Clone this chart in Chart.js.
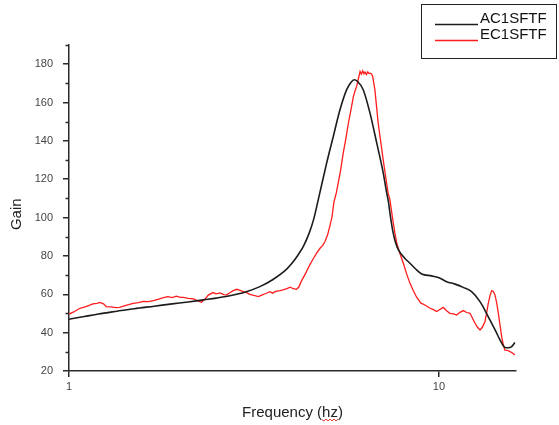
<!DOCTYPE html>
<html>
<head>
<meta charset="utf-8">
<title>Gain vs Frequency</title>
<script src="https://cdn.jsdelivr.net/npm/chart.js@4.4.1/dist/chart.umd.min.js"></script>
<style>
  html, body { margin: 0; padding: 0; background: #fff; }
  #wrap { width: 559px; height: 425px; }
</style>
</head>
<body>
<div id="wrap"><canvas id="gainChart" width="559" height="425"></canvas></div>
<script>
// AC1SFTF response (smooth)
const freqAC = [1.00, 1.10, 1.20, 1.35, 1.50, 1.70, 1.90, 2.10, 2.31, 2.50, 2.72, 3.00, 3.28, 3.55, 3.87, 4.00, 4.16,
  4.30, 4.45, 4.58, 4.72, 4.97, 5.18, 5.40, 5.63, 5.78, 5.90, 6.02, 6.24, 6.51, 6.79, 7.07, 7.22, 7.29, 7.40, 7.51, 7.63,
  7.77, 8.05, 8.35, 8.65, 8.98, 9.55, 10.0, 10.49, 11.05, 11.63, 12.25, 12.91, 13.30, 13.73, 14.20, 14.62, 15.07, 15.40,
  15.72, 16.04];
const gainAC = [47.0, 48.4, 49.7, 51.2, 52.5, 53.8, 55.0, 56.0, 57.1, 58.0, 59.2, 61.2, 64.0, 67.6, 73.0, 76.0, 80.5,
  85.0, 91.5, 98.8, 109.5, 128.4, 142.3, 156.2, 166.7, 170.5, 171.9, 171.0, 166.7, 154.5, 138.8, 123.2, 113.0, 109.0, 100.0, 92.5, 87.0,
  83.2, 79.2, 76.2, 73.2, 70.6, 69.6, 68.6, 66.6, 65.3, 63.6, 61.4, 56.2, 51.8, 46.6, 41.2, 36.2, 32.3, 32.1,
  32.7, 34.8];

// EC1SFTF response (measured, noisy)
const freqEC = [1.00, 1.03, 1.07, 1.10, 1.13, 1.16, 1.19, 1.21, 1.24, 1.26, 1.30, 1.34, 1.37, 1.41, 1.45, 1.49, 1.54,
  1.59, 1.64, 1.69, 1.74, 1.80, 1.85, 1.90, 1.95, 2.00, 2.04, 2.10, 2.17, 2.23, 2.28, 2.33, 2.38, 2.45, 2.50, 2.56,
  2.62, 2.67, 2.72, 2.78, 2.84, 2.90, 2.96, 3.02, 3.08, 3.16, 3.25, 3.32, 3.40, 3.49, 3.55, 3.62, 3.72, 3.79, 3.88,
  3.96, 4.04, 4.12, 4.18, 4.25, 4.35, 4.48, 4.58, 4.67, 4.77, 4.85, 4.92, 5.00, 5.08, 5.14, 5.20, 5.28, 5.34, 5.42,
  5.51, 5.60, 5.69, 5.78, 5.87, 5.93, 5.99, 6.05, 6.12, 6.17, 6.22, 6.27, 6.31, 6.37, 6.42, 6.47, 6.51, 6.57, 6.62,
  6.71, 6.78, 6.85, 6.96, 7.07, 7.18, 7.29, 7.37, 7.50, 7.60, 7.69, 7.85, 8.01, 8.18, 8.35, 8.52, 8.70, 8.82, 8.92,
  9.16, 9.30, 9.46, 9.66, 9.86, 10.05, 10.27, 10.48, 10.71, 10.95, 11.16, 11.40, 11.63, 11.88, 12.13, 12.30, 12.51,
  12.71, 12.91, 13.10, 13.31, 13.45, 13.59, 13.75, 13.88, 14.03, 14.17, 14.32, 14.47, 14.62, 14.77, 14.92, 15.07,
  15.30, 15.56, 15.80, 16.04];
const gainEC = [49.7, 50.8, 52.7, 53.3, 54.1, 55.0, 55.3, 55.8, 55.0, 53.6, 53.4, 53.0, 53.2, 54.0, 54.6, 55.3, 55.6,
  56.3, 56.2, 56.7, 57.4, 58.2, 58.8, 58.3, 59.0, 58.4, 58.4, 57.9, 57.6, 56.6, 55.8, 57.5, 59.6, 60.9, 60.2, 60.7,
  59.8, 59.7, 60.8, 61.9, 62.6, 62.0, 61.4, 60.9, 60.0, 59.4, 58.8, 59.6, 60.4, 61.4, 60.6, 61.5, 61.9, 62.3, 63.0,
  63.7, 62.9, 62.6, 63.8, 67.0, 70.5, 75.5, 78.8, 81.5, 84.0, 85.5, 87.5, 91.0, 96.2, 100.5, 108.0, 113.0, 118.0, 124.5,
  133.6, 141.0, 149.2, 156.0, 163.1, 166.0, 168.4, 172.0, 176.2, 174.8, 176.6, 175.0, 175.9, 174.6, 176.0, 175.1, 175.3, 174.9, 173.6,
  166.7, 158.0, 149.2, 139.5, 129.9, 121.0, 112.6, 109.2, 99.0, 92.0, 86.6, 81.0, 76.2, 70.5, 65.7, 62.0, 58.5, 57.0, 55.5,
  54.4, 53.6, 52.7, 52.0, 51.0, 52.1, 53.2, 51.4, 50.1, 49.8, 49.2, 50.6, 51.5, 50.5, 50.1, 47.8, 44.9,
  42.8, 41.4, 42.8, 45.7, 50.2, 55.3, 59.6, 61.9, 61.5, 59.7, 55.5, 50.1, 44.0, 37.9, 33.8, 30.9,
  30.8, 30.1, 29.4, 28.4];

const seriesNames = ['AC1SFTF', 'EC1SFTF'];
const seriesColors = ['#1c1c1c', '#ff1c1c'];
const xTicks = [1, 10];
const yTicks = [20, 40, 60, 80, 100, 120, 140, 160, 180];
const yMinorTicks = [30, 50, 70, 90, 110, 130, 150, 170, 190];

const axisColor = '#2a2a2a';
const fontFamily = "'Liberation Sans', Arial, sans-serif";

function toPoints(xs, ys) {
  return xs.map((x, i) => ({ x: x, y: ys[i] }));
}

// short minor ticks, boxed legend and the wavy underline under the unit
const extrasPlugin = {
  id: 'extras',
  afterDraw(chart) {
    const ctx = chart.ctx;
    const xs = chart.scales.x;
    const ys = chart.scales.y;
    ctx.save();

    ctx.strokeStyle = axisColor;
    ctx.lineWidth = 1.5;
    yMinorTicks.forEach(v => {
      const py = Math.round(ys.getPixelForValue(v)) + 0.5;
      ctx.beginPath();
      ctx.moveTo(ys.right - 3.5, py);
      ctx.lineTo(ys.right, py);
      ctx.stroke();
    });

    // legend box
    ctx.lineWidth = 1;
    ctx.strokeStyle = '#222';
    ctx.strokeRect(421.5, 4.5, 135, 54);
    ctx.font = '15px ' + fontFamily;
    ctx.textBaseline = 'alphabetic';
    ctx.textAlign = 'left';
    const rows = [24.5, 40.5];
    seriesNames.forEach((name, i) => {
      ctx.strokeStyle = seriesColors[i];
      ctx.lineWidth = 1.5;
      ctx.beginPath();
      ctx.moveTo(435, rows[i]);
      ctx.lineTo(478, rows[i]);
      ctx.stroke();
      ctx.fillStyle = '#111';
      ctx.fillText(name, 480, rows[i] - 1.5);
    });

    // spell-check squiggle under "hz"
    const title = 'Frequency (hz)';
    const cx = (xs.left + xs.right) / 2;
    const start = cx - ctx.measureText(title).width / 2;
    const hzX = start + ctx.measureText('Frequency (').width;
    const hzW = ctx.measureText('hz').width;
    ctx.strokeStyle = '#e03030';
    ctx.lineWidth = 1;
    ctx.beginPath();
    let up = false;
    ctx.moveTo(hzX, 420);
    for (let px = hzX + 2; px <= hzX + hzW + 1; px += 2) {
      ctx.lineTo(px, up ? 419 : 421);
      up = !up;
    }
    ctx.stroke();

    ctx.restore();
  }
};

const ctx = document.getElementById('gainChart').getContext('2d');

new Chart(ctx, {
  type: 'line',
  data: {
    datasets: [
      {
        label: seriesNames[0],
        data: toPoints(freqAC, gainAC),
        borderColor: seriesColors[0],
        borderWidth: 1.6,
        pointRadius: 0,
        tension: 0.4,
        cubicInterpolationMode: 'monotone',
        fill: false
      },
      {
        label: seriesNames[1],
        data: toPoints(freqEC, gainEC),
        borderColor: seriesColors[1],
        borderWidth: 1.3,
        pointRadius: 0,
        tension: 0,
        fill: false
      }
    ]
  },
  options: {
    responsive: false,
    animation: false,
    devicePixelRatio: 1,
    layout: { padding: { top: 45, right: 43, left: 0, bottom: 0 } },
    plugins: {
      legend: { display: false },
      tooltip: { enabled: false }
    },
    scales: {
      x: {
        type: 'logarithmic',
        min: 1,
        max: 16.15,
        afterBuildTicks: s => { s.ticks = xTicks.map(v => ({ value: v })); },
        afterFit: s => { s.height = 54; },
        grid: { drawOnChartArea: false, drawTicks: true, tickLength: 6, color: axisColor, lineWidth: 1.5 },
        border: { display: true, color: axisColor, width: 1.5 },
        ticks: {
          color: '#444',
          font: { family: fontFamily, size: 11 },
          padding: 3,
          maxRotation: 0,
          autoSkip: false,
          callback: v => String(v)
        },
        title: {
          display: true,
          text: 'Frequency (hz)',
          color: '#222',
          font: { family: fontFamily, size: 15 },
          padding: { top: 0, bottom: 3 }
        }
      },
      y: {
        min: 20,
        max: 190,
        afterBuildTicks: s => { s.ticks = yTicks.map(v => ({ value: v })); },
        afterFit: s => { s.width = 69; },
        grid: { drawOnChartArea: false, drawTicks: true, tickLength: 6, color: axisColor, lineWidth: 1.5 },
        border: { display: true, color: axisColor, width: 1.5 },
        ticks: {
          color: '#444',
          font: { family: fontFamily, size: 11 },
          padding: 10
        },
        title: {
          display: true,
          // trailing spaces nudge the rotated word a little lower
          text: 'Gain   ',
          color: '#222',
          font: { family: fontFamily, size: 15 },
          padding: { top: 8, bottom: 0 }
        }
      }
    }
  },
  plugins: [extrasPlugin]
});
</script>
</body>
</html>
